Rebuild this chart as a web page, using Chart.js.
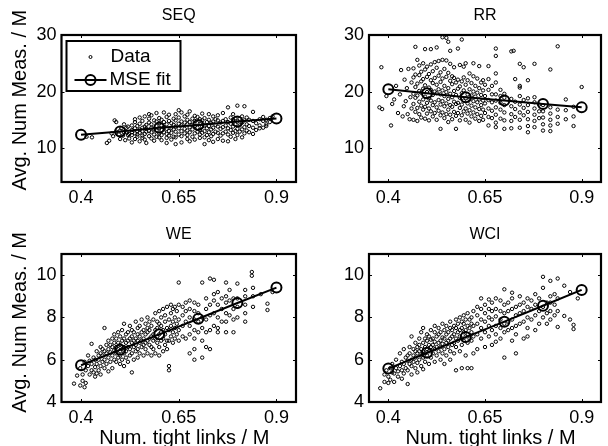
<!DOCTYPE html>
<html><head><meta charset="utf-8">
<script src="https://cdn.jsdelivr.net/npm/chart.js@4.4.0/dist/chart.umd.min.js"></script>
<style>
html,body{margin:0;padding:0;background:#fff;width:608px;height:446px;overflow:hidden}
.p{position:absolute;width:304px;height:223px}
canvas{display:block}
</style></head><body>
<div class="p" style="left:0;top:0"><canvas id="c1" width="304" height="223"></canvas></div>
<div class="p" style="left:304px;top:0"><canvas id="c2" width="304" height="223"></canvas></div>
<div class="p" style="left:0;top:223px"><canvas id="c3" width="304" height="223"></canvas></div>
<div class="p" style="left:304px;top:223px"><canvas id="c4" width="304" height="223"></canvas></div>
<script>
const titles = ['SEQ', 'RR', 'WE', 'WCI'];
const yLabel = 'Avg. Num Meas. / M';
const xLabel = 'Num. tight links / M';
const legendLabels = ['Data', 'MSE fit'];
const xTicks = [0.4, 0.65, 0.9];
const yTicksTop = [10, 20, 30];
const yTicksBottom = [4, 6, 8, 10];
const fitX = [0.4, 0.5, 0.6, 0.7, 0.8, 0.9];
const seqFit = [12.35, 12.95, 13.6, 14.1, 14.7, 15.25];
const rrFit = [20.4, 19.7, 19.0, 18.4, 17.8, 17.2];
const weFit = [5.74, 6.47, 7.2, 7.94, 8.68, 9.41];
const wciFit = [5.58, 6.33, 7.07, 7.8, 8.55, 9.3];

// each row: [x, y1, y2, ...]
const seqCols = [
[0.414,12.0],[0.428,11.9],[0.466,10.9],[0.472,11.3],[0.478,12.6],[0.482,12.1],[0.486,14.9],[0.49,14.6,12.9],[0.497,12.4],
[0.50,11.6,13.1],[0.503,13.5],[0.507,12.2],[0.51,14.2,12.8],[0.513,11.4],[0.516,12.9,13.6],[0.52,13.8,12.3],[0.523,12.5,11.7],
[0.53,11.0,12.3,13.2,14.0,12.8],[0.538,11.6,12.6,13.5,14.6,15.1],[0.544,12.0,13.0,13.9,12.4],[0.55,11.2,12.7,13.3,14.3,15.4],
[0.557,11.8,12.2,13.6,14.8,13.0],[0.563,12.5,13.8,15.6,11.5],[0.567,12.9,14.1,13.4,10.9],[0.574,12.1,13.0,14.5,15.2,16.0],
[0.58,11.7,12.8,13.6,14.2,15.8],[0.587,12.4,13.3,14.9,11.3],[0.593,12.0,13.1,13.9,14.7,16.2],[0.6,11.9,12.6,13.5,14.4,15.3],
[0.606,12.3,13.2,14.0,15.0,11.4],[0.612,12.8,13.7,14.6,16.3],[0.619,10.9,11.8,12.5,13.4,14.2,15.5],[0.625,12.2,13.0,14.8,15.9],
[0.631,11.5,12.7,13.6,14.4],[0.637,12.0,13.3,14.1,15.2],[0.642,10.7,11.9,12.9,13.8,14.9,16.0],[0.65,12.4,13.5,14.3,15.4,16.7],
[0.657,11.0,12.1,13.0,14.0,14.7,16.3],[0.665,12.6,13.4,14.5,15.6],[0.672,11.6,12.3,13.1,14.2,15.0,15.9],[0.678,11.2,12.8,13.7,14.6,16.5],
[0.685,12.0,13.3,14.1,15.2],[0.691,11.5,12.6,13.9,14.8,15.7],[0.698,12.9,13.6,14.4,15.5],[0.704,11.8,12.4,13.2,14.3,15.1],
[0.71,12.7,13.8,14.9,16.1],[0.716,10.7,11.9,13.0,14.0,15.3],[0.722,12.3,13.5,14.6],[0.727,11.4,12.8,13.9,15.0,16.0],
[0.733,12.1,13.3,14.4],[0.738,11.1,12.5,13.6,14.7,15.6],[0.744,12.9,14.1,15.1],[0.75,11.6,12.7,13.8,14.9,15.8],
[0.757,12.2,13.4,14.5],[0.763,11.3,12.6,13.7,14.8,16.2],[0.77,12.9,14.0,15.1],[0.776,11.2,12.4,13.5,14.6,17.2],
[0.783,12.0,13.2,14.3,15.4],[0.789,12.7,13.8,15.0,16.0],[0.795,11.6,13.0,14.2,15.3],[0.80,12.3,13.4,14.7,17.5],
[0.806,12.9,14.0,15.2],[0.812,11.9,13.3,14.5,15.6],[0.818,12.6,13.7,14.9,17.4],[0.824,13.1,14.2,15.4],[0.83,12.8,13.9,15.0],
[0.84,12.5,13.6,14.8,16.4],[0.848,13.2,14.4],[0.857,14.0,15.1,13.5],[0.866,13.6,14.8,15.5],[0.874,14.2,15.0,13.9],[0.883,15.3,14.6],[0.89,15.6]
];
const rrCols = [
[0.377,17.2],[0.384,16.9],[0.382,24.3],[0.395,19.2],[0.407,14.0],[0.41,17.8],[0.415,18.6],[0.42,21.0],[0.425,16.2],[0.43,19.5],
[0.433,23.8],[0.437,15.6],[0.44,17.4],[0.442,22.1],[0.445,18.3],[0.448,20.6],[0.45,16.0],[0.452,24.0],[0.455,15.1],[0.457,19.0],
[0.46,21.6,17.0],[0.465,15.0,17.8,19.6,22.5,24.1],[0.47,16.4,18.9,20.8,23.0,27.9],[0.475,14.8,17.1,19.3,21.4,25.6],
[0.48,16.0,18.2,20.1,22.9,24.6],[0.485,15.4,17.5,19.8,21.8,23.5],[0.49,16.8,18.6,20.5,22.2,25.0],[0.495,15.2,17.3,19.1,21.1,23.9,27.5],
[0.50,16.1,18.0,19.9,22.6,24.4],[0.505,14.9,17.0,18.8,20.7,23.1],[0.51,16.5,18.4,20.3,22.0,24.8,27.5],[0.515,15.6,17.6,19.4,21.5,23.6],
[0.52,16.2,18.1,20.0,22.4,25.2],[0.525,15.0,17.2,19.7,21.2,24.2,27.8],[0.53,16.6,18.5,20.4,22.8,25.4],[0.535,13.4,15.8,17.7,19.5,21.7,23.4],
[0.54,16.3,18.3,20.2,22.3,25.6,29.6],[0.545,15.3,17.4,19.2,21.0,24.0],[0.55,16.0,17.9,19.9,22.6,25.5,29.5],[0.555,14.6,16.8,18.7,20.6,23.3,28.8],
[0.56,15.9,17.6,19.6,21.9,24.9,27.2],[0.565,15.1,17.3,19.0,21.3,22.7],[0.57,16.4,18.2,20.1,22.4,24.3],[0.575,13.4,15.7,17.8,19.4,21.6],
[0.58,16.2,18.0,20.5,22.1,27.6],[0.585,14.9,17.1,18.9,20.9,24.7],[0.59,15.8,17.7,19.7,21.8,29.2],[0.595,16.5,18.4,20.2,22.5,24.4],
[0.60,15.0,17.0,18.8,21.2,25.0],[0.605,16.1,17.9,19.5,22.0],[0.61,14.5,16.7,18.6,20.4,23.2],[0.615,15.6,17.5,19.3,21.5],
[0.62,16.3,18.3,20.0,22.7,25.0],[0.625,15.2,17.2,19.1,21.0],[0.63,16.0,18.1,19.8,22.3],[0.635,14.8,16.9,18.6,20.6,24.5],
[0.64,15.7,17.6,19.4,21.6],[0.645,15.0,16.8,18.4,20.2,22.0],[0.65,16.2,17.9,19.2,21.2],[0.659,14.0,15.5,17.0,18.5,20.3,22.2,24.5],
[0.668,15.3,16.6,18.1,19.5,21.0],[0.678,13.7,14.5,15.9,17.2,18.4,19.5,21.6,23.2,26.3,27.6],[0.69,15.2,16.8,18.0,19.2,20.3],
[0.70,13.4,14.9,16.3,17.6,18.9,19.6],[0.718,13.5,14.8,16.0,17.4,18.7,27.1],[0.724,27.2],[0.728,15.5,16.9,18.2,22.2],
[0.74,13.6,15.0,16.3,17.7,19.2,20.7,21.0,24.9],[0.75,15.8,17.1,18.5,24.3],[0.761,12.8,13.9,15.1,16.4,17.6,18.8,22.0],
[0.778,13.7,14.8,15.9,17.0,18.1,19.0,24.9],[0.79,15.3,16.5,17.7],[0.80,13.1,14.2,15.4,16.5,17.6],
[0.819,13.0,14.0,15.0,16.1,17.2,23.9],[0.838,14.3,15.5,16.8,28.0],[0.859,15.1,16.7,18.6],[0.879,13.9,15.6,17.3],[0.9,20.8]
];
const weCols = [
[0.382,4.87],[0.39,5.25],[0.398,4.78,5.6],[0.404,5.3,5.0],[0.409,4.7,5.9],[0.412,4.9,5.5],[0.418,5.7,6.2],[0.422,5.3,5.95],
[0.427,5.5,5.8,6.75],[0.432,5.4,6.1],[0.436,5.65,6.0,5.2],[0.44,5.35,5.8,6.4],[0.445,5.5,6.0,6.2],[0.45,5.3,5.7,6.3,6.6],
[0.455,5.9,6.2,6.5],[0.46,5.6,6.0,6.4,7.5],[0.465,5.8,6.3,6.7],[0.47,5.45,6.1,6.5,6.9],[0.475,5.9,6.35,6.7],[0.48,5.6,6.2,6.6,7.0],
[0.485,6.0,6.45,6.8,7.2],[0.49,5.9,6.3,6.6,7.0],[0.495,6.1,6.5,6.8,7.3],[0.50,5.8,6.2,6.4,6.7,7.1],[0.505,6.0,6.5,6.9,7.4],
[0.51,5.7,6.3,6.6,7.0,7.7],[0.515,6.1,6.4,6.8,7.2],[0.52,5.9,6.6,6.9,7.3],[0.525,6.2,6.5,7.0,7.6],[0.53,5.4,6.3,6.8,7.1,7.4],
[0.535,6.0,6.6,6.9,7.3],[0.54,6.4,6.7,7.0,7.8],[0.545,6.1,6.5,6.9,7.2,7.5],[0.55,6.3,6.8,7.1,7.6],[0.555,6.6,6.9,7.3,7.9],
[0.56,6.2,6.7,7.0,7.4],[0.565,6.5,6.8,7.2,7.7],[0.57,6.3,6.9,7.3,7.5,8.0],[0.575,6.7,7.0,7.4,7.8],[0.58,6.2,6.6,7.1,7.6],
[0.585,6.5,6.9,7.2,7.9],[0.59,6.3,7.0,7.4,8.2],[0.595,6.8,7.1,7.5,7.8],[0.60,6.2,6.6,7.2,7.7,8.3],[0.605,6.9,7.3,7.6,8.0],
[0.61,6.4,7.0,7.4,8.4],[0.615,6.7,7.2,7.8,8.1],[0.62,6.5,6.9,7.5,8.5],[0.625,5.5,5.7,6.9,7.4,7.9],[0.63,7.1,7.6,8.2,8.6],
[0.635,6.8,7.3,7.8,8.4],[0.64,7.0,7.5,8.0,8.5],[0.645,7.2,7.7,8.3],[0.65,6.9,7.4,7.9,8.6,9.65],[0.66,7.1,7.6,8.1,8.5],
[0.668,7.0,7.8,8.3,8.7],[0.678,6.3,7.2,7.6,8.0,8.4,8.8],[0.69,6.0,6.5,7.0,7.4,7.9,8.3,8.7],[0.70,7.3,7.8,8.2,8.6],
[0.71,6.1,6.9,7.5,8.0,9.65],[0.72,6.6,7.3,7.9,8.4,8.9],[0.73,6.5,7.4,8.1,8.6,9.84],[0.74,7.6,8.2,8.8,9.1,9.78],
[0.75,7.3,7.5,8.0,8.6,9.2],[0.76,7.8,8.4,8.9],[0.771,7.3,7.8,8.2,8.7,9.0,9.65],[0.78,8.1,8.8,9.3],[0.79,7.3,7.9,8.4,8.9],
[0.80,8.0,8.5,8.9,9.6],[0.82,7.8,8.2,8.6,9.0,9.3],[0.837,9.97,10.15],[0.84,8.5,9.0,9.4],[0.86,9.1],[0.877,8.35,8.65],[0.89,9.2]
];
const wciCols = [
[0.379,4.65],[0.39,4.95,5.3],[0.395,5.5],[0.40,4.9,5.2],[0.405,5.05,5.6],[0.41,5.4,5.8],[0.415,4.95,5.35],[0.42,5.6,6.0],
[0.425,5.2,5.45],[0.43,5.7,6.3],[0.435,5.1,5.5,5.9],[0.44,5.35,5.8,6.5],[0.445,5.6,6.1],[0.45,4.85,5.5,5.95,6.2],
[0.455,5.8,6.3,6.6],[0.46,5.3,5.7,6.0,7.1],[0.465,5.9,6.2,6.5],[0.47,5.6,6.1,6.4,6.8],[0.475,5.4,5.85,6.3,6.6],
[0.48,6.0,6.4,6.7,7.0],[0.485,5.7,6.2,6.5,7.3],[0.49,5.55,6.1,6.4,6.8,7.5],[0.495,5.9,6.3,6.6,7.0],[0.50,6.2,6.5,6.9,7.2],
[0.505,5.8,6.4,6.7,7.1],[0.51,6.1,6.6,6.95,7.4],[0.515,6.3,6.7,7.0],[0.52,5.9,6.5,6.85,7.3,7.6],[0.525,6.2,6.6,7.1],
[0.53,6.4,6.8,7.2,7.5],[0.535,6.0,6.6,6.9,7.3],[0.54,6.3,6.75,7.05,7.7],[0.545,5.8,6.5,7.0,7.4],[0.55,6.2,6.8,7.2,7.6],
[0.555,6.6,6.9,7.3],[0.56,6.0,6.4,7.0,7.5,7.8],[0.565,6.7,7.1,7.4],[0.57,6.3,6.8,7.2,7.6],[0.575,5.5,6.6,7.0,7.5,7.9],
[0.58,6.9,7.3,7.7],[0.585,6.4,7.1,7.4,8.0],[0.59,5.6,6.7,7.0,7.5,7.8],[0.595,6.9,7.3,7.7,8.1],[0.60,6.2,7.1,7.4,7.9],
[0.605,5.6,6.8,7.2,7.6,8.2],[0.61,7.0,7.5,7.9],[0.615,5.6,6.9,7.3,7.7,8.0],[0.62,6.3,7.1,7.6,8.3],[0.63,6.5,7.2,7.7,8.1,8.5],
[0.64,7.0,7.5,7.9,8.4,8.9],[0.65,6.6,7.3,7.8,8.2,8.6],[0.66,7.1,7.6,8.0,8.4,8.85],[0.668,6.7,7.4,7.9,8.3,8.7],
[0.678,6.85,7.2,7.6,8.05,8.4,8.9],[0.69,7.0,7.5,7.9,8.3,8.8],[0.70,6.1,7.3,7.7,8.2,8.6,9.33],[0.71,7.4,7.8,8.3,8.7],
[0.72,6.9,7.5,7.9,8.4,8.9,9.17],[0.73,6.3,7.2,7.6,8.1,8.5],[0.74,7.7,8.2,8.6,9.0],[0.75,7.0,7.8,8.3,8.7],
[0.76,7.1,7.5,8.0,8.5,8.9],[0.77,7.9,8.4,8.8],[0.78,7.4,8.1,8.6,9.1],[0.79,7.7,8.3,8.9],[0.80,8.0,8.5,9.4,9.92],
[0.81,7.7,8.2,8.7],[0.819,7.9,8.3,8.7,9.0,9.73],[0.83,8.1,8.6,9.1],[0.838,7.55,8.3,8.9,9.84],[0.855,8.07,9.5],
[0.87,7.9,9.2],[0.879,7.45,7.65],[0.89,8.9]
];

const FF = "'Liberation Sans', Arial, Helvetica, sans-serif";
Chart.defaults.font.family = FF;
Chart.defaults.color = '#000';

function expand(cols) {
  return cols.flatMap(c => c.slice(1).map(y => ({ x: c[0], y: y })));
}

const framePlugin = {
  id: 'frame',
  afterDatasetsDraw(chart) {
    const { ctx, chartArea: a, scales } = chart;
    const x = scales.x, y = scales.y;
    ctx.save();
    ctx.strokeStyle = '#000';
    ctx.lineWidth = 1;
    ctx.beginPath();
    x.ticks.forEach(t => {
      const px = Math.round(x.getPixelForValue(t.value)) + 0.5;
      ctx.moveTo(px, a.bottom); ctx.lineTo(px, a.bottom - 3);
      ctx.moveTo(px, a.top); ctx.lineTo(px, a.top + 3);
    });
    y.ticks.forEach(t => {
      const py = Math.round(y.getPixelForValue(t.value)) + 0.5;
      ctx.moveTo(a.left, py); ctx.lineTo(a.left + 3, py);
      ctx.moveTo(a.right, py); ctx.lineTo(a.right - 3, py);
    });
    ctx.stroke();
    ctx.lineWidth = 2.2;
    ctx.strokeRect(a.left, a.top, a.right - a.left, a.bottom - a.top);
    ctx.restore();
  }
};

const legendPlugin = {
  id: 'boxLegend',
  afterDatasetsDraw(chart) {
    const { ctx, chartArea: a } = chart;
    const ds = chart.data.datasets;
    const bx = a.left + 5, by = a.top + 6, bw = 114, bh = 50;
    ctx.save();
    ctx.fillStyle = '#fff';
    ctx.fillRect(bx, by, bw, bh);
    ctx.strokeStyle = '#000';
    ctx.lineWidth = 2;
    ctx.strokeRect(bx, by, bw, bh);
    ctx.fillStyle = '#000';
    ctx.font = '19px ' + FF;
    ctx.textBaseline = 'middle';
    ctx.textAlign = 'left';
    ctx.lineWidth = 1;
    ctx.beginPath(); ctx.arc(bx + 24, by + 16, 1.5, 0, Math.PI * 2); ctx.stroke();
    ctx.fillText(ds[1].label, bx + 44, by + 16);
    ctx.lineWidth = 2;
    ctx.beginPath(); ctx.moveTo(bx + 8, by + 39); ctx.lineTo(bx + 40, by + 39); ctx.stroke();
    ctx.beginPath(); ctx.arc(bx + 24, by + 39, 5, 0, Math.PI * 2); ctx.stroke();
    ctx.fillText(ds[0].label, bx + 43, by + 39);
    ctx.restore();
  }
};

function panel(id, o) {
  new Chart(document.getElementById(id), {
    type: 'scatter',
    data: {
      datasets: [
        { label: legendLabels[1], data: fitX.map((x, i) => ({ x: x, y: o.fit[i] })), showLine: true,
          borderColor: '#000', borderWidth: 2, pointRadius: 5, pointBorderWidth: 2,
          pointBackgroundColor: 'rgba(0,0,0,0)', pointBorderColor: '#000', backgroundColor: 'rgba(0,0,0,0)' },
        { label: legendLabels[0], data: expand(o.cols), pointRadius: 1.7, pointBorderWidth: 1,
          pointBorderColor: '#000', pointBackgroundColor: 'rgba(0,0,0,0)', borderColor: '#000', backgroundColor: 'rgba(0,0,0,0)' }
      ]
    },
    options: {
      responsive: false, animation: false,
      layout: { padding: { left: 0, right: o.padR, top: 0, bottom: 0 } },
      plugins: {
        legend: { display: false }, tooltip: { enabled: false },
        title: { display: true, text: o.title, fullSize: false, color: '#000',
          font: { family: FF, size: 16, weight: 'normal' }, padding: { top: o.tTop, bottom: 9.8 } }
      },
      scales: {
        x: {
          type: 'linear', min: 0.35, max: 0.95,
          afterBuildTicks: s => { s.ticks = xTicks.map(v => ({ value: v })); },
          afterFit: s => { s.height = o.xH; },
          grid: { display: false, drawTicks: false }, border: { display: false },
          ticks: { color: '#000', font: { family: FF, size: 18 }, padding: 5, maxRotation: 0, autoSkip: false, callback: v => String(v) },
          title: { display: o.xTitle, text: '  ' + xLabel, color: '#000', font: { family: FF, size: 20, lineHeight: 1 }, padding: { top: 0, bottom: -2 } }
        },
        y: {
          type: 'linear', min: o.ymin, max: o.ymax,
          afterBuildTicks: s => { s.ticks = o.yTicks.map(v => ({ value: v })); },
          afterFit: s => { s.width = o.yW; },
          grid: { display: false, drawTicks: false }, border: { display: false },
          ticks: { color: '#000', font: { family: FF, size: 18 }, padding: 5, autoSkip: false, callback: v => String(v) },
          title: { display: o.yTitle, text: o.yPad + yLabel, color: '#000', font: { family: FF, size: 20 }, padding: { top: 8, bottom: 0 } }
        }
      }
    },
    plugins: o.legend ? [framePlugin, legendPlugin] : [framePlugin]
  });
}

panel('c1', { title: titles[0], cols: seqCols, fit: seqFit, ymin: 4, ymax: 30, yTicks: yTicksTop, yW: 61.5, padR: 8, xH: 41, tTop: 6, xTitle: false, yTitle: true, yPad: '   ', legend: true });
panel('c2', { title: titles[1], cols: rrCols, fit: rrFit, ymin: 4, ymax: 30, yTicks: yTicksTop, yW: 65, padR: 5, xH: 41, tTop: 6, xTitle: false, yTitle: false, yPad: '', legend: false });
panel('c3', { title: titles[2], cols: weCols, fit: weFit, ymin: 4, ymax: 11, yTicks: yTicksBottom, yW: 61.5, padR: 8, xH: 44, tTop: 2, xTitle: true, yTitle: true, yPad: '  ', legend: false });
panel('c4', { title: titles[3], cols: wciCols, fit: wciFit, ymin: 4, ymax: 11, yTicks: yTicksBottom, yW: 65, padR: 5, xH: 44, tTop: 2, xTitle: true, yTitle: false, yPad: '', legend: false });
</script>
</body></html>
